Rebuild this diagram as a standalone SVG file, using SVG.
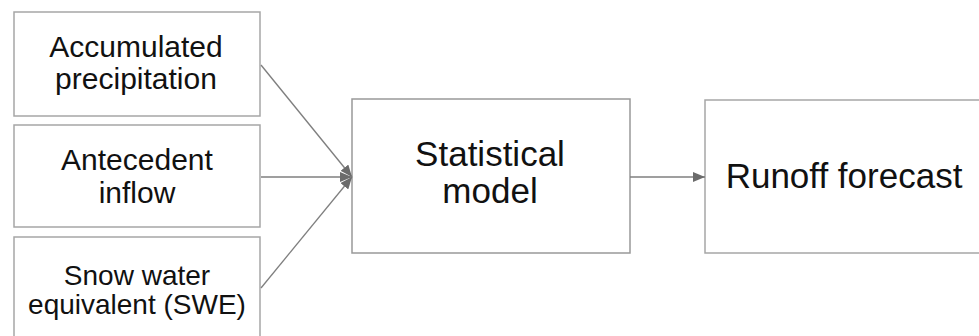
<svg xmlns="http://www.w3.org/2000/svg" width="979" height="336" viewBox="0 0 979 336">
<style>
.box{fill:#fff;stroke:#a6a6a6;stroke-width:1.5}
.lbl{font-family:"Liberation Sans",Arial,sans-serif;fill:#111;text-anchor:middle}
.con{stroke:#7f7f7f;stroke-width:1.3;fill:none}
</style>
<defs>
<marker id="ah" viewBox="0 0 12 10" refX="12" refY="5" markerWidth="12" markerHeight="10" markerUnits="userSpaceOnUse" orient="auto">
<path d="M0,0 L12,5 L0,10 Z" fill="#6b6b6b"/>
</marker>
</defs>
<rect width="979" height="336" fill="#fff"/>
<g id="acc">
<rect class="box" x="14" y="12" width="246" height="104"/>
<text class="lbl" x="136" y="57" font-size="30">Accumulated</text>
<text class="lbl" x="136" y="89" font-size="30">precipitation</text>
</g>
<g id="ante">
<rect class="box" x="14" y="125" width="246" height="102"/>
<text class="lbl" x="137" y="170" font-size="30">Antecedent</text>
<text class="lbl" x="137" y="203" font-size="30">inflow</text>
</g>
<g id="swe">
<rect class="box" x="14" y="237" width="246" height="110"/>
<text class="lbl" x="137" y="285" font-size="28">Snow water</text>
<text class="lbl" x="137" y="314" font-size="28">equivalent (SWE)</text>
</g>
<g id="stat">
<rect class="box" x="352" y="99" width="278" height="154" style="stroke:#999"/>
<text class="lbl" x="490" y="166" font-size="35">Statistical</text>
<text class="lbl" x="490" y="203" font-size="35">model</text>
</g>
<g id="runoff">
<rect class="box" x="705" y="100" width="290" height="153"/>
<text class="lbl" x="844" y="188" font-size="35">Runoff forecast</text>
</g>
<g id="connectors">
<line class="con" x1="261" y1="65" x2="352" y2="177" marker-end="url(#ah)"/>
<line class="con" x1="261" y1="177" x2="352" y2="177" marker-end="url(#ah)"/>
<line class="con" x1="261" y1="288" x2="352" y2="177" marker-end="url(#ah)"/>
<line class="con" x1="630" y1="177" x2="705" y2="177" marker-end="url(#ah)"/>
</g>
</svg>
